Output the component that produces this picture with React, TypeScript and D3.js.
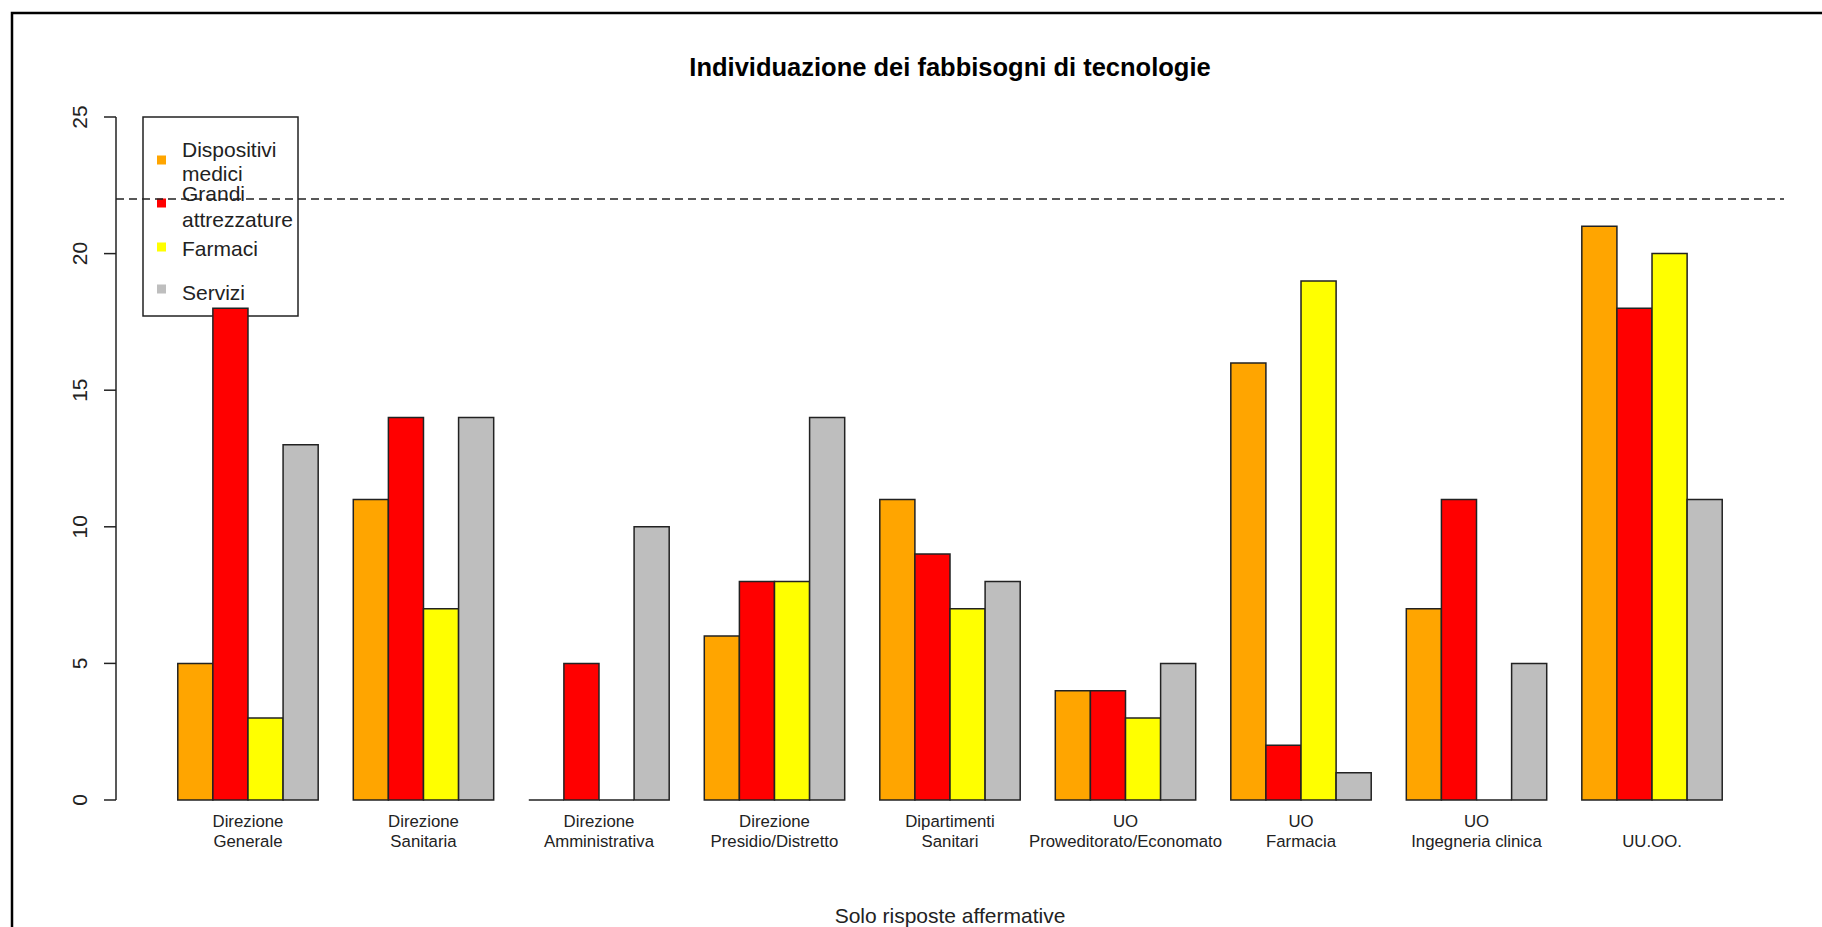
import React, { useEffect, useRef } from "react";
import * as d3 from "d3";

// data
const categories = [
  "Direzione\nGenerale",
  "Direzione\nSanitaria",
  "Direzione\nAmministrativa",
  "Direzione\nPresidio/Distretto",
  "Dipartimenti\nSanitari",
  "UO\nProweditorato/Economato",
  "UO\nFarmacia",
  "UO\nIngegneria clinica",
  "\nUU.OO.",
];
const seriesNames = ["Dispositivi medici", "Grandi attrezzature", "Farmaci", "Servizi"];
const dispositivi = [5, 11, 0, 6, 11, 4, 16, 7, 21];
const grandi = [18, 14, 5, 8, 9, 4, 2, 11, 18];
const farmaci = [3, 7, 0, 8, 7, 3, 19, 0, 20];
const servizi = [13, 14, 10, 14, 8, 5, 1, 5, 11];
const yTicks = [0, 5, 10, 15, 20, 25];
const threshold = 22;
const legendLines = [["Dispositivi", "medici"], ["Grandi", "attrezzature"], ["Farmaci"], ["Servizi"]];
const colors = ["#FFA500", "#FF0000", "#FFFF00", "#BEBEBE"];

const FONT = "'Liberation Sans', Arial, sans-serif";
const INK = "#222";

function App() {
  const ref = useRef<SVGSVGElement>(null);

  useEffect(() => {
    const W = 1822;
    const H = 927;
    const svg = d3.select(ref.current);
    svg.selectAll("*").remove();
    svg.attr("width", W).attr("height", H);

    const plotL = 116;
    const plotR = 1784;
    const y0 = 800;
    const y25 = 117;

    const values = [dispositivi, grandi, farmaci, servizi];

    // scales
    const x0 = d3
      .scaleBand<string>()
      .domain(categories)
      .range([plotL, plotR])
      .paddingInner(0.2)
      .paddingOuter(0.352);
    const x1 = d3.scaleBand<string>().domain(seriesNames).range([0, x0.bandwidth()]);
    const y = d3.scaleLinear().domain([0, 25]).range([y0, y25]);
    const color = d3.scaleOrdinal<string, string>().domain(seriesNames).range(colors);

    // outer frame (only left and top visible)
    svg
      .append("path")
      .attr("d", `M12,${H + 5}V13H${W + 5}`)
      .attr("fill", "none")
      .attr("stroke", "#000")
      .attr("stroke-width", 2.5);

    // title
    svg
      .append("text")
      .attr("x", (plotL + plotR) / 2)
      .attr("y", 76)
      .attr("text-anchor", "middle")
      .attr("font-family", FONT)
      .attr("font-weight", "bold")
      .attr("font-size", 25.5)
      .attr("fill", "#000")
      .text("Individuazione dei fabbisogni di tecnologie");

    // y axis
    const ax = svg.append("g").attr("stroke", INK).attr("stroke-width", 1.5);
    ax.append("line").attr("x1", plotL).attr("x2", plotL).attr("y1", y(25)).attr("y2", y(0));
    ax.selectAll("line.tick")
      .data(yTicks)
      .join("line")
      .attr("class", "tick")
      .attr("x1", plotL - 12)
      .attr("x2", plotL)
      .attr("y1", (d) => y(d))
      .attr("y2", (d) => y(d));
    svg
      .append("g")
      .selectAll("text")
      .data(yTicks)
      .join("text")
      .attr("transform", (d) => `translate(87,${y(d)}) rotate(-90)`)
      .attr("text-anchor", "middle")
      .attr("font-family", FONT)
      .attr("font-size", 21)
      .attr("fill", INK)
      .text((d) => d);

    // legend box (no fill, bars drawn over it)
    const lg = svg.append("g");
    lg.append("rect")
      .attr("x", 143)
      .attr("y", 117)
      .attr("width", 155)
      .attr("height", 199)
      .attr("fill", "none")
      .attr("stroke", INK)
      .attr("stroke-width", 1.5);
    const swatchY = [160, 203, 247, 289];
    const baselines = [[157, 181], [201, 227], [256], [300]];
    seriesNames.forEach((s, i) => {
      lg.append("rect")
        .attr("x", 157)
        .attr("y", swatchY[i] - 4.5)
        .attr("width", 9)
        .attr("height", 9)
        .attr("fill", color(s));
      legendLines[i].forEach((t, k) => {
        lg.append("text")
          .attr("x", 182)
          .attr("y", baselines[i][k])
          .attr("font-family", FONT)
          .attr("font-size", 21)
          .attr("fill", INK)
          .text(t);
      });
    });

    // bars
    const groups = svg
      .append("g")
      .selectAll("g")
      .data(categories)
      .join("g")
      .attr("transform", (d) => `translate(${x0(d)},0)`);

    groups
      .selectAll("path")
      .data((_, gi) => seriesNames.map((s, si) => ({ s, v: values[si][gi] })))
      .join("path")
      .attr("d", (d) => {
        const bx = x1(d.s)!;
        const bw = x1.bandwidth();
        return `M${bx},${y(0)}V${y(d.v)}H${bx + bw}V${y(0)}Z`;
      })
      .attr("fill", (d) => color(d.s))
      .attr("stroke", INK)
      .attr("stroke-width", 1.5);

    // category labels
    groups.each(function (d) {
      const lines = d.split("\n");
      const g = d3.select(this);
      lines.forEach((t, k) => {
        g.append("text")
          .attr("x", x0.bandwidth() / 2)
          .attr("y", 827 + k * 20)
          .attr("text-anchor", "middle")
          .attr("font-family", FONT)
          .attr("font-size", 16.8)
          .attr("fill", INK)
          .text(t);
      });
    });

    // threshold line
    svg
      .append("line")
      .attr("x1", plotL)
      .attr("x2", plotR)
      .attr("y1", y(threshold))
      .attr("y2", y(threshold))
      .attr("stroke", INK)
      .attr("stroke-width", 1.5)
      .attr("stroke-dasharray", "8,5");

    // x label
    svg
      .append("text")
      .attr("x", (plotL + plotR) / 2)
      .attr("y", 923)
      .attr("text-anchor", "middle")
      .attr("font-family", FONT)
      .attr("font-size", 21)
      .attr("fill", INK)
      .text("Solo risposte affermative");
  }, []);

  return (
    <svg
      ref={ref}
      style={{ position: "absolute", left: 0, top: 0, display: "block", background: "#fff" }}
    />
  );
}

export default App;
